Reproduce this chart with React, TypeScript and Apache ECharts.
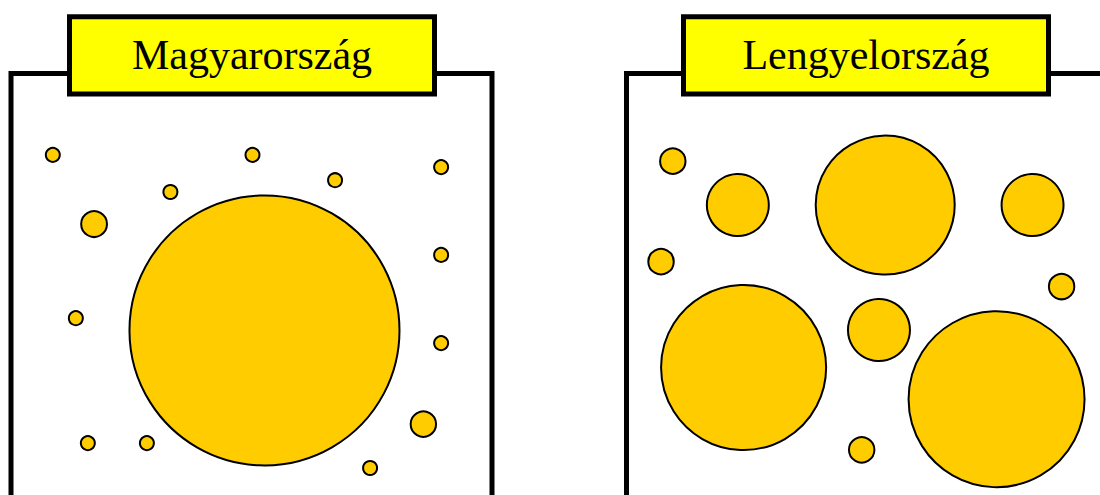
import React, { useEffect, useRef } from "react";
import * as echarts from "echarts";

const panelTitles = ["Magyarország", "Lengyelország"];

// Hungary bubbles: [x, y, size]
const huX = [8.5, 50.1, 89.4, 67.3, 33.0, 17.1, 52.6, 89.4, 13.3, 89.4, 85.7, 15.8, 28.1, 74.6];
const huY = [80.6, 80.6, 77.7, 74.6, 71.8, 64.2, 39.0, 56.9, 41.9, 36.0, 16.8, 12.3, 12.3, 6.4];
const huV = [1, 1, 1, 1, 1, 3.4, 372, 1, 1, 1, 3.3, 1, 1, 1];

// Poland bubbles
const plX = [9.75, 23.3, 54.0, 84.7, 7.3, 90.75, 24.5, 52.7, 77.2, 49.1];
const plY = [79.1, 68.7, 68.7, 68.7, 55.3, 49.4, 30.2, 39.1, 22.7, 10.7];
const plV = [3.3, 19.6, 98.6, 19.6, 3.3, 3.3, 139, 19.6, 158, 3.3];

function zip(xs: number[], ys: number[], vs: number[]) {
  return xs.map((x, i) => [x, ys[i], vs[i]]);
}

export default function App() {
  const ref = useRef<HTMLDivElement>(null);
  useEffect(() => {
    document.body.style.margin = "0";
    const chart = echarts.init(ref.current!, undefined, { renderer: "svg" });
    const frameW = 5;
    const grids = [
      { left: 12, top: 73, width: 480, height: 422, outerBoundsMode: "none", containLabel: false },
      { left: 626, top: 73, width: 480, height: 422, outerBoundsMode: "none", containLabel: false },
    ];
    const axisBase = { type: "value" as const, min: 0, max: 100, show: false };
    const seriesStyle = {
      color: "#FFCC00",
      borderColor: "#000",
      borderWidth: 2,
      opacity: 1,
    };
    const sizeFn = (v: number[]) => 14 * Math.sqrt(v[2]);
    const titleBox = (cx: number, text: string) => [
      {
        type: "rect",
        shape: { x: cx - 182.5, y: 16.7, width: 365, height: 77.3 },
        style: { fill: "#FFFF00", stroke: "#000", lineWidth: frameW },
        z: 10,
      },
      {
        type: "text",
        x: cx,
        y: 55,
        style: {
          text,
          font: '42px "Liberation Serif", "Times New Roman", serif',
          fill: "#000",
          align: "center",
          verticalAlign: "middle",
        },
        z: 11,
      },
    ];
    chart.setOption({
      animation: false,
      backgroundColor: "#fff",
      grid: grids,
      xAxis: [
        { ...axisBase, gridIndex: 0 },
        { ...axisBase, gridIndex: 1 },
      ],
      yAxis: [
        { ...axisBase, gridIndex: 0 },
        { ...axisBase, gridIndex: 1 },
      ],
      series: [
        {
          type: "scatter",
          xAxisIndex: 0,
          yAxisIndex: 0,
          data: zip(huX, huY, huV),
          symbol: "circle",
          symbolSize: sizeFn,
          itemStyle: seriesStyle,
          clip: false,
          silent: true,
        },
        {
          type: "scatter",
          xAxisIndex: 1,
          yAxisIndex: 1,
          data: zip(plX, plY, plV),
          symbol: "circle",
          symbolSize: sizeFn,
          itemStyle: seriesStyle,
          clip: false,
          silent: true,
        },
      ],
      graphic: [
        {
          type: "polyline",
          shape: { points: [[11, 500], [11, 73.5], [492, 73.5], [492, 500]] },
          style: { stroke: "#000", lineWidth: frameW, fill: "none" },
          z: 5,
        },
        {
          type: "polyline",
          shape: { points: [[626.5, 500], [626.5, 73.5], [1110, 73.5]] },
          style: { stroke: "#000", lineWidth: frameW, fill: "none" },
          z: 5,
        },
        ...titleBox(252, panelTitles[0]),
        ...titleBox(866, panelTitles[1]),
      ],
    });
    return () => chart.dispose();
  }, []);
  return <div ref={ref} style={{ width: 1100, height: 495 }} />;
}
